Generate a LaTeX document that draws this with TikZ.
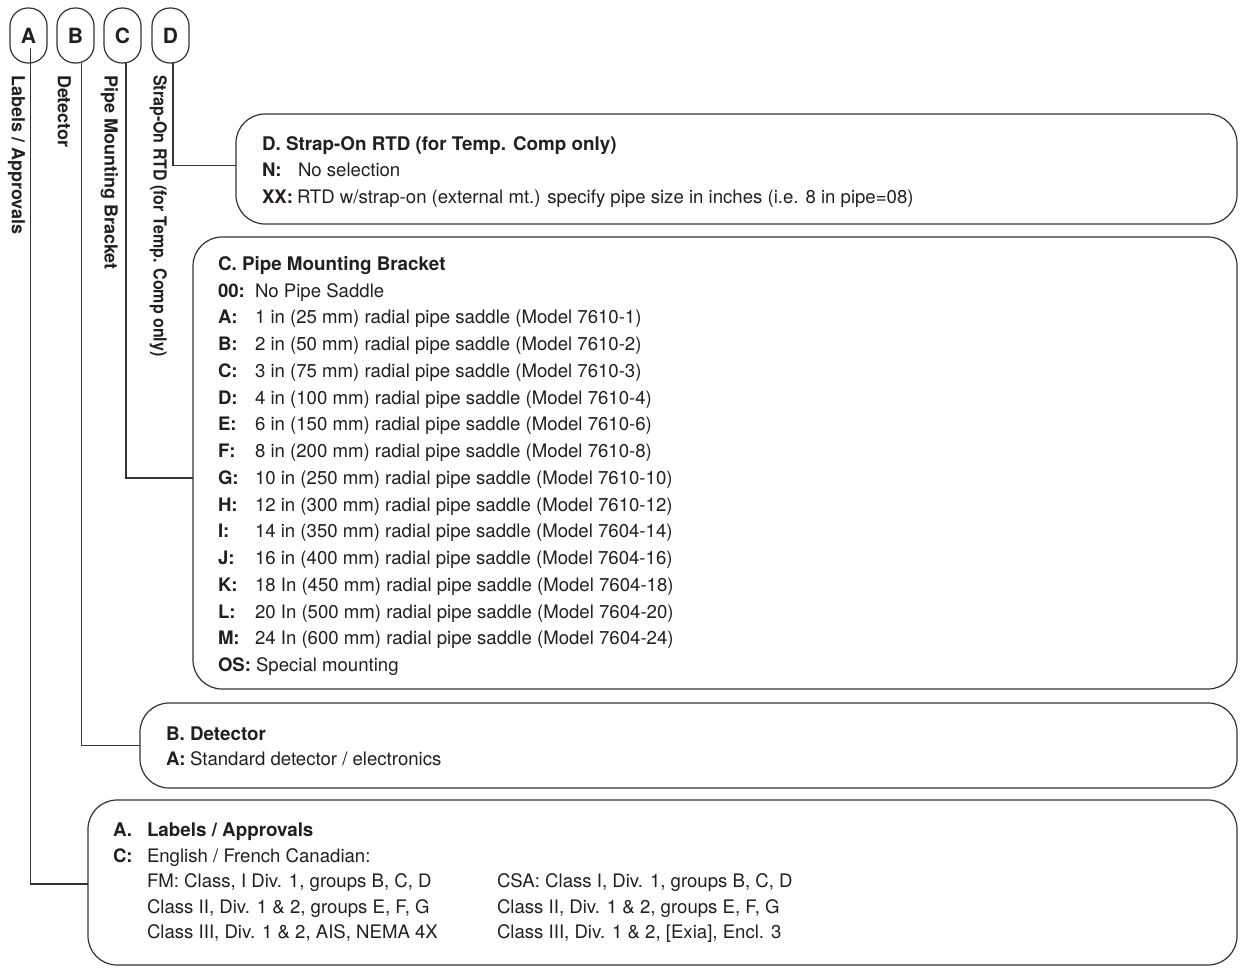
\documentclass[tikz,border=0pt]{standalone}
\usepackage{graphicx}
\usepackage{fontspec}
\setmainfont{TeX Gyre Heros}
\definecolor{ink}{HTML}{231F20}
\definecolor{rule}{HTML}{333333}
\begin{document}
\begin{tikzpicture}[x=1pt,y=-1pt,
  every node/.style={inner sep=0pt,outer sep=0pt,text=ink},
  box/.style={draw=rule,line width=1.2pt,rounded corners=29pt,rectangle},
  oval/.style={draw=rule,line width=1.2pt,rounded corners=18pt,minimum width=37pt,minimum height=55pt,font=\fontsize{21}{21}\selectfont\bfseries},
  conn/.style={draw=rule,line width=1.2pt},
  txt/.style={anchor=base west,font=\fontsize{18.6}{22}\selectfont},
  ttl/.style={anchor=base west,font=\fontsize{18.8}{22}\selectfont\bfseries},
  lbl/.style={anchor=base west,font=\fontsize{18.6}{22}\selectfont\bfseries},
  vlab/.style={rotate=-90,anchor=north west,font=\fontsize{18}{22}\selectfont\bfseries}
]
\useasboundingbox (0,0) rectangle (1242,967);
% ovals
\node[oval] (oA) at (28.5,35.5) {A};
\node[oval] (oB) at (75.5,35.5) {B};
\node[oval] (oC) at (122.5,35.5) {C};
\node[oval] (oD) at (170.5,35.5) {D};
% vertical labels
\node[vlab] (vA) at (25,75) {Labels / Approvals};
\node[vlab] (vB) at (71,75) {Detector};
\node[vlab] (vC) at (118,75) {Pipe Mounting Bracket};
\node[vlab] (vD) at (167,75) {\scalebox{0.89}[1]{Strap-On RTD (for Temp. Comp only)}};
% boxes
\node[box,minimum width=1001pt,minimum height=110pt] (Dbox) at (736.5,169) {};
\node[box,minimum width=1044pt,minimum height=452pt] (Cbox) at (715,463) {};
\node[box,minimum width=1097pt,minimum height=85pt] (Bbox) at (688.5,745.5) {};
\node[box,minimum width=1149pt,minimum height=165pt] (Abox) at (662.5,882.5) {};
% connectors
\draw[conn] ([xshift=2pt,yshift=-12pt]oA.center) |- ([yshift=-1.5pt]Abox.west);
\draw[conn] ([xshift=6pt]oB.south) |- (Bbox.west);
\draw[conn] ([xshift=3.5pt]oC.south) |- ([yshift=-15pt]Cbox.west);
\draw[conn] ([xshift=2.5pt]oD.south) |- ([yshift=3.5pt]Dbox.west);
% D box text
\node[ttl] (dT) at (262,150) {D. Strap-On RTD (for Temp. Comp only)};
\node[lbl] (dN) at (262,176.7) {N:};
\node[txt] (dNt) at (298,176.7) {No selection};
\node[lbl] (dX) at (262,203.3) {XX:};
\node[txt,anchor=base west] (dXt) at ([xshift=4pt]dX.base east) {RTD w/strap-on (external mt.) specify pipe size in inches (i.e. 8 in pipe=08)};
% C box text
\node[ttl] (cT) at (218,270.5) {C. Pipe Mounting Bracket};
\foreach \k/\l/\t in {0/00:/No Pipe Saddle,
  1/A:/1 in (25 mm) radial pipe saddle (Model 7610-1),
  2/B:/2 in (50 mm) radial pipe saddle (Model 7610-2),
  3/C:/3 in (75 mm) radial pipe saddle (Model 7610-3),
  4/D:/4 in (100 mm) radial pipe saddle (Model 7610-4),
  5/E:/6 in (150 mm) radial pipe saddle (Model 7610-6),
  6/F:/8 in (200 mm) radial pipe saddle (Model 7610-8),
  7/G:/10 in (250 mm) radial pipe saddle (Model 7610-10),
  8/H:/12 in (300 mm) radial pipe saddle (Model 7610-12),
  9/I:/14 in (350 mm) radial pipe saddle (Model 7604-14),
  10/J:/16 in (400 mm) radial pipe saddle (Model 7604-16),
  11/K:/18 In (450 mm) radial pipe saddle (Model 7604-18),
  12/L:/20 In (500 mm) radial pipe saddle (Model 7604-20),
  13/M:/24 In (600 mm) radial pipe saddle (Model 7604-24)}{
  \node[lbl] (cl\k) at (218,297+26.76*\k) {\l};
  \node[txt] (ct\k) at (255,297+26.76*\k) {\t};
}
\node[lbl] (clOS) at (218,671.7) {OS:};
\node[txt] (ctOS) at (256,671.7) {Special mounting};
% B box text
\node[ttl] (bT) at (166,740) {B. Detector};
\node[lbl] (bA) at (166,765) {A:};
\node[txt] (bAt) at (190,765) {Standard detector / electronics};
% A box text
\node[ttl] (aT1) at (113,836) {A.};
\node[ttl] (aT2) at (147,836) {Labels / Approvals};
\node[lbl] (aC) at (113,862) {C:};
\node[txt] (aC1) at (147,862) {English / French Canadian:};
\node[txt] (aC2) at (147,887.5) {FM: Class, I Div. 1, groups B, C, D};
\node[txt] (aC3) at (147,913) {Class II, Div. 1 \& 2, groups E, F, G};
\node[txt] (aC4) at (147,938.5) {Class III, Div. 1 \& 2, AIS, NEMA 4X};
\node[txt] (aR2) at (497,887.5) {CSA: Class I, Div. 1, groups B, C, D};
\node[txt] (aR3) at (497,913) {Class II, Div. 1 \& 2, groups E, F, G};
\node[txt] (aR4) at (497,938.5) {Class III, Div. 1 \& 2, [Exia], Encl. 3};
\end{tikzpicture}
\end{document}
